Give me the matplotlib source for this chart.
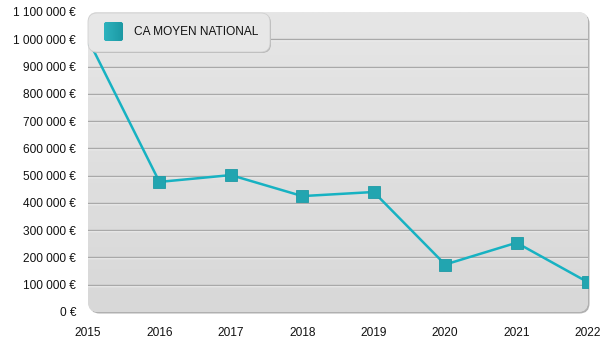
import matplotlib
matplotlib.use("Agg")
import matplotlib.pyplot as plt
import matplotlib.transforms as mtransforms
import numpy as np
from matplotlib.patches import FancyBboxPatch
from matplotlib.ticker import FuncFormatter
from matplotlib.colors import LinearSegmentedColormap

years = [2015, 2016, 2017, 2018, 2019, 2020, 2021, 2022]
ca_moyen = [1000000, 477000, 502000, 425000, 440000, 174000, 254000, 109000]
series_label = "CA MOYEN NATIONAL"
y_ticks = [0, 100000, 200000, 300000, 400000, 500000, 600000, 700000,
           800000, 900000, 1000000, 1100000]

plt.rcParams['font.family'] = ['Liberation Sans', 'DejaVu Sans']

W, H = 600, 350
fig = plt.figure(figsize=(6, 3.5), dpi=100)
fig.patch.set_facecolor('white')
L, R, T, B = 88, 588, 12, 312
ax = fig.add_axes([L / W, 1 - B / H, (R - L) / W, (B - T) / H])
ax.set_zorder(1)
ax.patch.set_visible(False)
for s in ax.spines.values():
    s.set_visible(False)

def rbox(x0, y0, x1, y1, r, **kw):
    # pixel box, y measured from top
    return FancyBboxPatch((x0, H - y1), x1 - x0, y1 - y0,
                          boxstyle=f"round,pad=0,rounding_size={r}",
                          transform=mtransforms.IdentityTransform(), **kw)

# plot area shadow + gradient background
fig.add_artist(rbox(L + 1.5, T + 1.5, R + 1.5, B + 1.5, 10,
                    facecolor='#b0b0b0', edgecolor='none', zorder=0))
bg = rbox(L, T, R, B, 10, facecolor='#dedede', edgecolor='none', zorder=0.1)
fig.add_artist(bg)
grad = np.linspace(0, 1, 256).reshape(-1, 1)
cmap = LinearSegmentedColormap.from_list('bg', ['#d8d8d8', '#e6e6e6'])
im = ax.imshow(grad, extent=[0, 1, 0, 1], transform=ax.transAxes,
               origin='lower', cmap=cmap, aspect='auto', zorder=0.6,
               interpolation='bilinear')
im.set_clip_path(bg)
ax.set_xlim(years[0], years[-1])
ax.set_ylim(0, 1100000)

# grid lines with white highlight
down = ax.transData + mtransforms.ScaledTranslation(0, -1 / 100, fig.dpi_scale_trans)
for v in y_ticks[1:-1]:
    ax.axhline(v, color='#a9a9a9', lw=1.0, zorder=1)
    ax.plot([years[0], years[-1]], [v, v], color='#f4f4f4', lw=1.0, zorder=0.9,
            transform=down)

ax.plot(years, ca_moyen, color='#17b2c2', lw=1.8, zorder=3,
        marker='s', markersize=9, markerfacecolor='#22a5b0',
        markeredgecolor='#1d9aa5', markeredgewidth=0.6)

def fmt(v, pos):
    s = f"{int(v):,}".replace(",", " ")
    return s + " €"

ax.set_yticks(y_ticks)
ax.yaxis.set_major_formatter(FuncFormatter(fmt))
ax.set_xticks(years)
ax.set_xticklabels([str(y) for y in years])
ax.tick_params(axis='both', length=0, labelsize=8.6, colors='#111111')
ax.tick_params(axis='y', pad=8.6)
ax.tick_params(axis='x', pad=10.5)

# legend (drawn by hand for exact layout)
fig.add_artist(rbox(89, 14, 271, 53, 9, facecolor='#b5b5b5', edgecolor='none', zorder=6))
fig.add_artist(rbox(88, 13, 270, 52, 9, facecolor='#e7e7e7', edgecolor='#d0d0d0',
                    linewidth=0.6, zorder=7))
lm = rbox(104, 22, 123, 41, 2.5, facecolor='#22a8b3', edgecolor='none', zorder=8)
fig.add_artist(lm)
hgrad = np.linspace(0, 1, 64).reshape(1, -1)
lcmap = LinearSegmentedColormap.from_list('lm', ['#2db3be', '#1b97a2'])
lim = fig.figimage(np.zeros((1, 1)), zorder=9)
lim.remove()
leg_ax = fig.add_axes([104 / W, 1 - 41 / H, 19 / W, 19 / H])
leg_ax.set_zorder(8)
leg_ax.axis('off')
gim = leg_ax.imshow(hgrad, extent=[0, 1, 0, 1], cmap=lcmap, aspect='auto',
                    interpolation='bilinear')
gim.set_clip_path(lm)
fig.text(134 / W, 1 - 32 / H, series_label, fontsize=8.6, color='#111111',
         ha='left', va='center', zorder=9)

fig.savefig('out.png', dpi=100)
